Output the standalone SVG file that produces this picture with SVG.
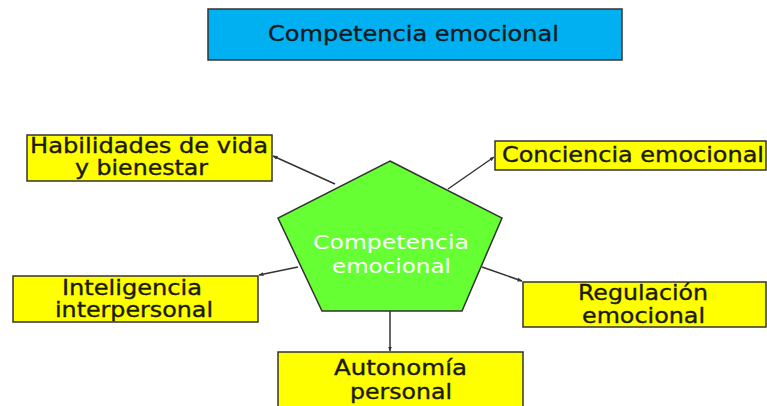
<svg xmlns="http://www.w3.org/2000/svg" width="767" height="406" viewBox="0 0 767 406">
<style>
text{font-family:"DejaVu Sans","Verdana",sans-serif;text-anchor:middle;}
.box{fill:#FFFF00;stroke:#333;stroke-width:1.5;}
.lbl{font-size:21px;fill:#1a1a00;stroke:#1a1a00;stroke-width:0.35;}
.conn{stroke:#333;stroke-width:1.5;fill:none;marker-end:url(#ah);}
</style>
<defs>
<marker id="ah" viewBox="0 0 10 10" refX="9" refY="5" markerWidth="5" markerHeight="5" orient="auto" markerUnits="userSpaceOnUse">
<path d="M0,1 L10,5 L0,9 z" fill="#333"/>
</marker>
</defs>
<rect width="767" height="406" fill="#fff"/>
<g id="title">
<rect x="208" y="9" width="414" height="51" fill="#00B0F0" stroke="#333" stroke-width="1.5"/>
<text x="413.5" y="41" font-size="21" textLength="291" lengthAdjust="spacingAndGlyphs" fill="#0a1a20" stroke="#0a1a20" stroke-width="0.3">Competencia emocional</text>
</g>
<g id="connectors">
<line class="conn" x1="335" y1="184" x2="273" y2="156"/>
<line class="conn" x1="448" y1="189" x2="494" y2="157"/>
<line class="conn" x1="298" y1="267" x2="259" y2="275"/>
<line class="conn" x1="482" y1="267" x2="522" y2="281"/>
<line class="conn" x1="390" y1="311" x2="390" y2="351"/>
</g>
<g id="center">
<polygon points="390,161 502,218 462,311 322,311 278,218" fill="#66FF33" stroke="#333" stroke-width="1.5"/>
<text x="391" y="249" font-size="20" fill="#fff" textLength="156" lengthAdjust="spacingAndGlyphs">Competencia</text>
<text x="391.5" y="273" font-size="20" fill="#fff" textLength="119" lengthAdjust="spacingAndGlyphs">emocional</text>
</g>
<g id="habilidades">
<rect class="box" x="27" y="135" width="245" height="46"/>
<text class="lbl" x="149" y="153" textLength="238" lengthAdjust="spacingAndGlyphs">Habilidades de vida</text>
<text class="lbl" x="141.5" y="175" textLength="133" lengthAdjust="spacingAndGlyphs">y bienestar</text>
</g>
<g id="conciencia">
<rect class="box" x="495" y="141" width="271" height="29"/>
<text class="lbl" x="633" y="162" textLength="262" lengthAdjust="spacingAndGlyphs">Conciencia emocional</text>
</g>
<g id="inteligencia">
<rect class="box" x="13" y="276" width="245" height="46"/>
<text class="lbl" x="132" y="295" textLength="140" lengthAdjust="spacingAndGlyphs">Inteligencia</text>
<text class="lbl" x="134" y="317" textLength="158" lengthAdjust="spacingAndGlyphs">interpersonal</text>
</g>
<g id="regulacion">
<rect class="box" x="523" y="282" width="243" height="45"/>
<text class="lbl" x="643" y="300" textLength="130" lengthAdjust="spacingAndGlyphs">Regulación</text>
<text class="lbl" x="643.5" y="323" textLength="123" lengthAdjust="spacingAndGlyphs">emocional</text>
</g>
<g id="autonomia">
<rect class="box" x="278" y="352" width="245" height="60"/>
<text class="lbl" x="400.5" y="375" textLength="133" lengthAdjust="spacingAndGlyphs">Autonomía</text>
<text class="lbl" x="401" y="399" textLength="102" lengthAdjust="spacingAndGlyphs">personal</text>
</g>
</svg>
